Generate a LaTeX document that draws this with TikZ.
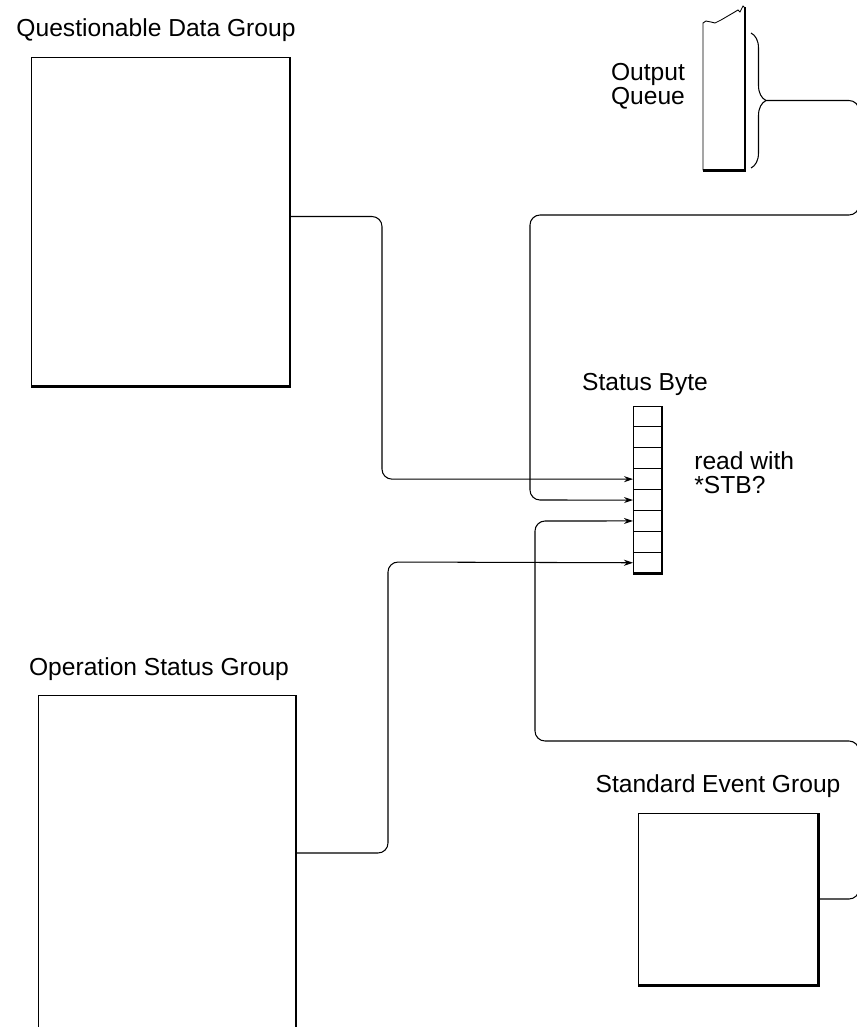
\documentclass[tikz,border=0pt]{standalone}
\usepackage{fontspec}
\setmainfont{Liberation Sans}
\usetikzlibrary{arrows.meta, calc, decorations.pathreplacing}

\tikzset{
  groupbox/.style={draw, line width=0.5pt, inner sep=0pt, outer sep=0pt},
  shadowline/.style={line width=1.7pt},
  cell/.style={draw, line width=0.5pt, minimum width=5.8mm, minimum height=4.18mm, inner sep=0pt, outer sep=0pt},
  conn/.style={line width=0.6pt, rounded corners=2mm},
  lbl/.style={font=\fontsize{14}{13.5}\selectfont, inner sep=0pt}
}

\begin{document}
\begin{tikzpicture}[x=0.2mm, y=-0.2mm]
  \useasboundingbox (0,0) rectangle (857,1027);

  % Groups
  \node[groupbox, minimum width=51.8mm, minimum height=65.8mm] (qd) at (160.5,221.5) {};
  \draw[shadowline] (qd.north east) -- (qd.south east) -- (qd.south west);
  \node[lbl] (qdlbl) at (156,30) {Questionable Data Group};

  \node[groupbox, minimum width=51.6mm, minimum height=70mm] (os) at (167,870) {};
  \draw[shadowline] (os.north east) -- (os.south east);
  \node[lbl] (oslbl) at (159,669) {Operation Status Group};

  \node[groupbox, minimum width=36mm, minimum height=34.4mm] (se) at (728,899) {};
  \draw[shadowline] (se.north east) -- (se.south east) -- (se.south west);
  \node[lbl] (selbl) at (718,786) {Standard Event Group};

  % Status byte
  \foreach \i in {1,...,8}
    \node[cell] (b\i) at (647.5,{406+20.9*(\i-0.5)}) {};
  \draw[shadowline] (b1.north east) -- (b8.south east) -- (b8.south west);
  \node[lbl] (sblbl) at (645,384) {Status Byte};
  \node[lbl, align=left, anchor=west] (readlbl) at (694,473) {read with\\*STB?};

  % Output queue
  \draw[line width=0.5pt] (745,7) -- (745,170) -- (703,170) -- (703,23) -- (706,21)
    -- (711,22) -- (715,23) -- (721,20) -- (733,13) -- (738,10) -- (740,12)
    -- (743,6) -- (745,8);
  \draw[shadowline] (745,7) -- (745,170) -- (703,170);
  \draw[line width=0.6pt, decorate, decoration={brace, amplitude=3mm}] (751,33) -- (751,168);
  \coordinate (oqtip) at (766,100.5);
  \node[lbl, align=center] (oqlbl) at (648,86) {Output\\Queue};

  % Connections
  \draw[conn, -{Stealth[length=1.8mm, width=1.2mm]}] ($(qd.east)+(0,-5)$) -- ++(92,0) |- (b4.west);
  \draw[conn, -{Stealth[length=1.8mm, width=1.2mm]}] (oqtip) -| (859,215) -| (530,500) -- (b5.west);
  \draw[conn, -{Stealth[length=1.8mm, width=1.2mm]}] (se.east) -| (859,741) -| (535,521) -- (b6.west);
  \draw[conn, -{Stealth[length=1.8mm, width=1.2mm]}] ($(os.north east)+(0,158)$) -| (388,562) -- (b8.west);
\end{tikzpicture}
\end{document}
